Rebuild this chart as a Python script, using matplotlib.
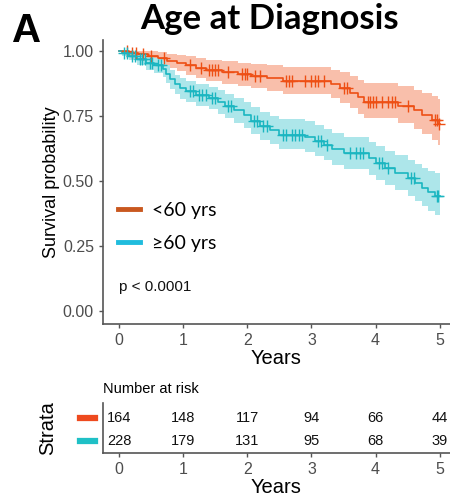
import numpy as np
import matplotlib
matplotlib.use("Agg")
import matplotlib.pyplot as plt
from matplotlib.lines import Line2D

# ---- data -------------------------------------------------------------
groups = ["<60 yrs", "\u226560 yrs"]

t_lt60 = [0, 0.15, 0.3, 0.45, 0.6, 0.75, 0.9, 1.05, 1.2, 1.35, 1.6, 1.85, 2.05,
          2.3, 2.55, 3.3, 3.45, 3.6, 3.72, 3.82, 4.35, 4.6, 4.72, 4.88, 4.97]
s_lt60 = [1.0, 0.994, 0.988, 0.981, 0.972, 0.963, 0.955, 0.945, 0.935, 0.926,
          0.918, 0.911, 0.904, 0.897, 0.886, 0.872, 0.858, 0.84, 0.822, 0.806,
          0.79, 0.772, 0.755, 0.737, 0.72]
lo_lt60 = [1.0, 0.982, 0.971, 0.960, 0.947, 0.935, 0.923, 0.910, 0.897, 0.885,
           0.875, 0.866, 0.857, 0.848, 0.835, 0.818, 0.801, 0.780, 0.760, 0.741,
           0.722, 0.700, 0.680, 0.660, 0.640]
hi_lt60 = [1.0, 1.0, 1.0, 1.0, 0.997, 0.991, 0.986, 0.980, 0.973, 0.967, 0.961,
           0.956, 0.951, 0.946, 0.939, 0.929, 0.918, 0.904, 0.890, 0.878, 0.865,
           0.852, 0.840, 0.828, 0.815]
cens_lt60 = [0.12, 0.2, 0.27, 0.38, 0.5, 0.7, 1.1, 1.28, 1.4, 1.45, 1.5, 1.55,
             1.7, 1.92, 1.97, 2.0, 2.12, 2.2, 2.6, 2.65, 2.7, 2.9, 3.0, 3.05,
             3.1, 3.2, 3.5, 3.55, 3.88, 3.92, 3.96, 4.0, 4.1, 4.2, 4.25, 4.3,
             4.5, 4.92, 4.95, 4.99]

t_ge60 = [0, 0.05, 0.15, 0.28, 0.42, 0.55, 0.68, 0.74, 0.8, 0.87, 0.95, 1.05,
          1.2, 1.4, 1.55, 1.65, 1.8, 1.95, 2.05, 2.2, 2.35, 2.5, 2.9, 3.05, 3.2,
          3.32, 3.5, 3.9, 4.0, 4.15, 4.3, 4.5, 4.62, 4.72, 4.82, 4.92]
s_ge60 = [1.0, 0.993, 0.982, 0.968, 0.955, 0.945, 0.932, 0.912, 0.892, 0.872,
          0.857, 0.845, 0.833, 0.82, 0.806, 0.79, 0.772, 0.755, 0.733, 0.713,
          0.695, 0.678, 0.668, 0.655, 0.64, 0.622, 0.607, 0.588, 0.568, 0.55,
          0.53, 0.51, 0.492, 0.474, 0.458, 0.442]
lo_ge60 = [1.0, 0.982, 0.965, 0.946, 0.929, 0.916, 0.900, 0.878, 0.856, 0.834,
           0.817, 0.804, 0.790, 0.776, 0.760, 0.743, 0.723, 0.705, 0.682, 0.660,
           0.641, 0.622, 0.611, 0.597, 0.581, 0.562, 0.546, 0.525, 0.504, 0.485,
           0.464, 0.442, 0.423, 0.404, 0.386, 0.368]
hi_ge60 = [1.0, 1.0, 0.996, 0.988, 0.979, 0.972, 0.962, 0.945, 0.927, 0.909,
           0.896, 0.885, 0.875, 0.863, 0.851, 0.836, 0.820, 0.804, 0.784, 0.765,
           0.750, 0.740, 0.730, 0.716, 0.700, 0.684, 0.669, 0.652, 0.634, 0.617,
           0.599, 0.580, 0.565, 0.550, 0.538, 0.530]
cens_ge60 = [0.08, 0.12, 0.2, 0.25, 0.33, 0.36, 0.4, 0.48, 0.52, 0.6, 0.65, 1.1,
             1.15, 1.25, 1.3, 1.35, 1.45, 1.5, 1.7, 1.75, 2.1, 2.15, 2.25, 2.3,
             2.55, 2.6, 2.7, 2.75, 2.8, 2.85, 3.1, 3.15, 3.25, 3.6, 3.7, 3.75,
             3.8, 4.05, 4.1, 4.2, 4.55, 4.6, 4.95, 4.98]

risk_years = [0, 1, 2, 3, 4, 5]
at_risk_lt60 = [164, 148, 117, 94, 66, 44]
at_risk_ge60 = [228, 179, 131, 95, 68, 39]

y_ticks = [0.0, 0.25, 0.5, 0.75, 1.0]
p_label = "p < 0.0001"
end_time = 5.0

# ---- styling -----------------------------------------------------------
line_cols = ["#EE4F14", "#1BB6C1"]
fill_cols = ["#F9BFAB", "#ADE6EA"]
legend_cols = ["#C9581F", "#20BCDD"]
table_cols = ["#EE4A1E", "#1FC0C6"]
axis_grey = "#555555"
tick_grey = "#4D4D4D"
sans = ["Liberation Sans", "DejaVu Sans"]
soft = ["Lato", "DejaVu Sans"]

fig = plt.figure(figsize=(4.5, 4.99), dpi=100)

ax = fig.add_axes([103 / 450, 1 - 324 / 499, 347 / 450, 284 / 499])
ax_t = fig.add_axes([103 / 450, 1 - 453 / 499, 347 / 450, 50 / 499])

series = [
    (t_lt60, s_lt60, lo_lt60, hi_lt60, cens_lt60),
    (t_ge60, s_ge60, lo_ge60, hi_ge60, cens_ge60),
]

# confidence bands first, then curves with censoring ticks on top
for i, (t, s, lo, hi, cens) in enumerate(series):
    tt = np.append(t, end_time)
    ll = np.append(lo, lo[-1])
    hh = np.append(hi, hi[-1])
    ax.fill_between(tt, ll, hh, step="post", color=fill_cols[i], lw=0, zorder=1)
for i, (t, s, lo, hi, cens) in enumerate(series):
    tt = np.append(t, end_time)
    ss = np.append(s, s[-1])
    ax.step(tt, ss, where="post", color=line_cols[i], lw=1.2, zorder=3)
    idx = np.searchsorted(t, cens, side="right") - 1
    cy = np.asarray(s)[idx]
    ax.plot(cens, cy, ls="none", marker="+", ms=8, mew=1.0,
            color=line_cols[i], zorder=4)

ax.set_xlim(-0.25, 5.16)
ax.set_ylim(-0.05, 1.043)
ax.set_yticks(y_ticks)
ax.set_yticklabels([f"{v:.2f}" for v in y_ticks])
ax.set_xticks(risk_years)
for sp in ["top", "right"]:
    ax.spines[sp].set_visible(False)
for sp in ["left", "bottom"]:
    ax.spines[sp].set_color(axis_grey)
    ax.spines[sp].set_linewidth(1.2)
ax.tick_params(colors=axis_grey, labelcolor=tick_grey, labelsize=11.5,
               length=3, width=1)
for lab in ax.get_xticklabels() + ax.get_yticklabels():
    lab.set_family(sans)
ax.set_xlabel("Years", family=sans, fontsize=14.5, labelpad=1)
ax.set_ylabel("Survival probability", family=sans, fontsize=13, labelpad=2)

handles = [Line2D([], [], color=legend_cols[i], lw=3.5) for i in range(2)]
ax.legend(handles, groups, loc="center left",
          bbox_to_anchor=(0.043, 0.342), frameon=False,
          prop={"family": soft, "size": 14}, handlelength=1.15,
          handletextpad=0.6, labelspacing=0.8, borderpad=0,
          borderaxespad=0)

ax.text(0, 0.093, p_label, family=sans, fontsize=11, va="center", ha="left",
        color="#111111")

# ---- number-at-risk table ---------------------------------------------
rows = [at_risk_lt60, at_risk_ge60]
row_y = [1, 0]
for r, vals in enumerate(rows):
    for x, v in zip(risk_years, vals):
        ax_t.text(x, row_y[r], str(v), family=sans, fontsize=10.5,
                  ha="center", va="center", color="#111111")
ax_t.set_xlim(-0.25, 5.16)
ax_t.set_ylim(-0.52, 1.65)
ax_t.set_xticks(risk_years)
ax_t.set_yticks([])
for sp in ["top", "right"]:
    ax_t.spines[sp].set_visible(False)
for sp in ["left", "bottom"]:
    ax_t.spines[sp].set_color(axis_grey)
    ax_t.spines[sp].set_linewidth(1.2)
ax_t.tick_params(colors=axis_grey, labelcolor=tick_grey, labelsize=11.5,
                 length=3, width=1)
for lab in ax_t.get_xticklabels():
    lab.set_family(sans)
ax_t.set_xlabel("Years", family=sans, fontsize=14.5, labelpad=1)
ax_t.text(-0.25, 2.25, "Number at risk", fontsize=10.5, family=sans,
          va="center", ha="left", clip_on=False)

# strata colour keys
for r in range(2):
    fig.add_artist(Line2D([80 / 450, 95 / 450],
                          [1 - (418 + 23 * r) / 499] * 2,
                          color=table_cols[r], lw=4.5))
fig.text(48 / 450, 1 - 428 / 499, "Strata", rotation=90, family=sans,
         fontsize=14.5, ha="center", va="center")

# ---- titles -----------------------------------------------------------
fig.text(269 / 450, 1 - 19 / 499, "Age at Diagnosis", family=soft,
         fontweight="bold", fontsize=25, ha="center", va="center")
fig.text(12 / 450, 1 - 31 / 499, "A", family=sans, fontweight="bold",
         fontsize=29, ha="left", va="center")

fig.savefig("out.png", dpi=100)
